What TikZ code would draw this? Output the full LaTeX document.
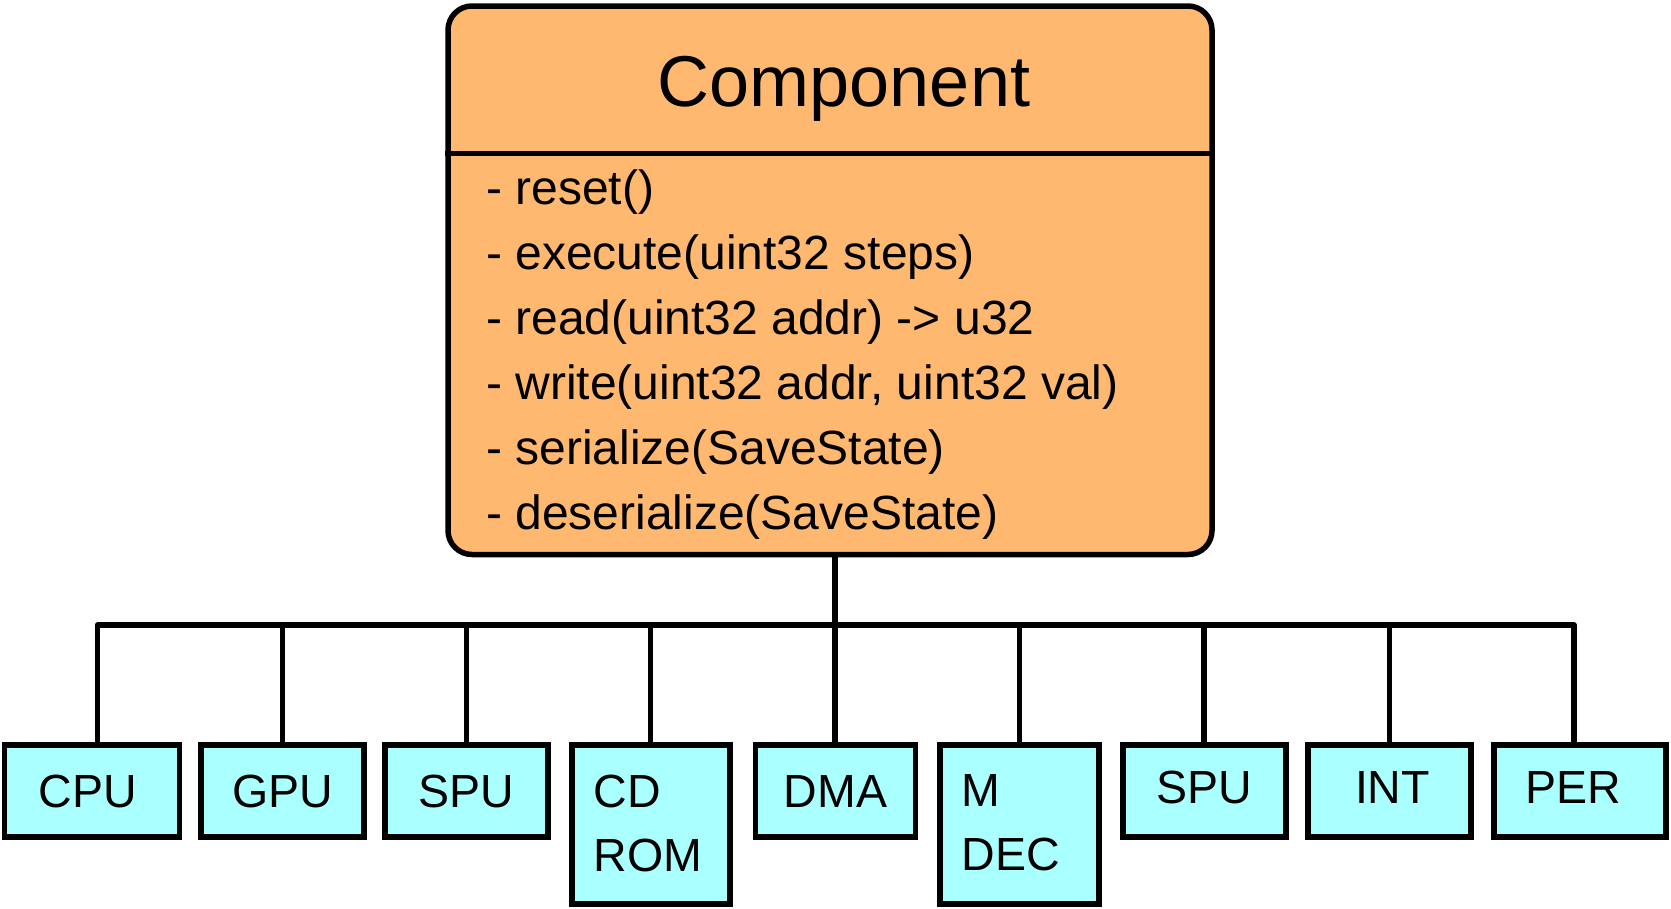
\documentclass[tikz,border=0pt]{standalone}
\usepackage{fontspec}
\setmainfont{Liberation Sans}
\definecolor{comporange}{HTML}{FFB870}
\definecolor{boxcyan}{HTML}{AAFFFF}
\begin{document}
\begin{tikzpicture}[x=1pt,y=-1pt,
  wire/.style={line width=5.5pt, line join=round},
  unitbox/.style={draw, line width=5.5pt, fill=boxcyan, inner sep=0pt, minimum height=92pt},
  tallbox/.style={unitbox, minimum height=159pt},
  lbl/.style={inner sep=0pt, font=\fontsize{46.5}{64}\selectfont, align=left},
  method/.style={anchor=base west, inner sep=0pt, font=\fontsize{48}{65}\selectfont},
]
\useasboundingbox (0,0) rectangle (1671,908);

% component class box
\node[draw, line width=5.5pt, fill=comporange, rounded corners=24pt,
      minimum width=764pt, minimum height=548.5pt, inner sep=0pt] (comp) at (830,280.25) {};
\coordinate (divy) at (0,153.5);
\draw[line width=5.5pt] (comp.west |- divy) -- (comp.east |- divy);
\node[anchor=base, inner sep=0pt, font=\fontsize{72}{86}\selectfont] (ctitle) at (844,106) {Component};
\node[method] (m1) at (486,204) {- reset()};
\node[method] (m2) at (486,269) {- execute(uint32 steps)};
\node[method] (m3) at (486,334) {- read(uint32 addr) -> u32};
\node[method] (m4) at (486,399) {- write(uint32 addr, uint32 val)};
\node[method] (m5) at (486,464) {- serialize(SaveState)};
\node[method] (m6) at (486,529) {- deserialize(SaveState)};

% sub components
\node[unitbox, minimum width=175pt, label={[lbl, xshift=-4pt]center:CPU}] (cpu) at (92,791) {};
\node[unitbox, minimum width=163pt, label={[lbl]center:GPU}] (gpu) at (282.5,791) {};
\node[unitbox, minimum width=163pt, label={[lbl]center:SPU}] (spu) at (466.5,791) {};
\node[tallbox, minimum width=158pt, label={[lbl, xshift=-3pt, yshift=1.5pt]center:CD\\ROM}] (cdrom) at (651,824.5) {};
\node[unitbox, minimum width=160pt, label={[lbl]center:DMA}] (dma) at (835.5,791) {};
\node[tallbox, minimum width=159pt, label={[lbl, xshift=-8.5pt, yshift=1.5pt]center:M\\DEC}] (mdec) at (1019.5,824.5) {};
\node[unitbox, minimum width=163pt, label={[lbl, yshift=4pt]center:SPU}] (spub) at (1204.5,791) {};
\node[unitbox, minimum width=163pt, label={[lbl, xshift=3pt, yshift=4pt]center:INT}] (int) at (1389.5,791) {};
\node[unitbox, minimum width=172pt, label={[lbl, xshift=-6.5pt, yshift=4pt]center:PER}] (per) at (1580,791) {};

% bus junctions
\coordinate (j1) at (97.5,625);
\coordinate (j2) at (282.5,625);
\coordinate (j3) at (466.5,625);
\coordinate (j4) at (650.5,625);
\coordinate (j5) at (835,625);
\coordinate (j6) at (1019.5,625);
\coordinate (j7) at (1204,625);
\coordinate (j8) at (1389.5,625);
\coordinate (j9) at (1574,625);

% connectors
\draw[wire] (comp.south -| j5) -- (j5);
\draw[wire] (j1 |- cpu.north) -- (j1) -- (j9) -- (j9 |- per.north);
\draw[wire] (j2) -- (j2 |- gpu.north);
\draw[wire] (j3) -- (j3 |- spu.north);
\draw[wire] (j4) -- (j4 |- cdrom.north);
\draw[wire] (j5) -- (j5 |- dma.north);
\draw[wire] (j6) -- (j6 |- mdec.north);
\draw[wire] (j7) -- (j7 |- spub.north);
\draw[wire] (j8) -- (j8 |- int.north);
\end{tikzpicture}
\end{document}
